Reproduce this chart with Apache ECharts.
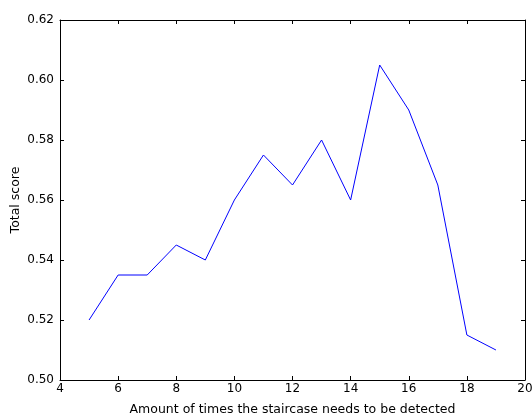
<!DOCTYPE html>
<html>
<head>
<meta charset="utf-8">
<script src="https://cdn.jsdelivr.net/npm/echarts@6/dist/echarts.min.js"></script>
<style>
  html, body { margin: 0; padding: 0; background: #fff; }
  #chart { width: 532px; height: 416px; }
</style>
</head>
<body>
<div id="chart"></div>
<script>
// Detection count vs. total score
const detections = [5, 6, 7, 8, 9, 10, 11, 12, 13, 14, 15, 16, 17, 18, 19];
const totalScore = [0.52, 0.535, 0.535, 0.545, 0.54, 0.56, 0.575, 0.565, 0.58, 0.56, 0.605, 0.59, 0.565, 0.515, 0.51];
const xTicks = [4, 6, 8, 10, 12, 14, 16, 18, 20];
const yTicks = [0.50, 0.52, 0.54, 0.56, 0.58, 0.60, 0.62];

const font = 'DejaVu Sans';
const tickFs = 12;
const nameFs = 12.5;
const chart = echarts.init(document.getElementById('chart'), null, { renderer: 'canvas' });

const tickStyle = { show: true, inside: true, length: 4, lineStyle: { color: '#000', width: 1 } };
const lineStyle = { show: true, lineStyle: { color: '#000', width: 1 } };

chart.setOption({
  animation: false,
  grid: { left: 60, top: 20, width: 465, height: 360, containLabel: false, outerBoundsMode: 'none' },
  xAxis: [
    {
      type: 'value', min: xTicks[0], max: xTicks[xTicks.length - 1], interval: 2,
      position: 'bottom',
      name: 'Amount of times the staircase needs to be detected',
      nameLocation: 'middle', nameGap: 23, nameMoveOverlap: false,
      nameTextStyle: { fontFamily: font, fontSize: nameFs, color: '#000' },
      axisLine: lineStyle, axisTick: tickStyle, splitLine: { show: false },
      axisLabel: { fontFamily: font, fontSize: tickFs, color: '#000', margin: 3 }
    },
    {
      type: 'value', min: xTicks[0], max: xTicks[xTicks.length - 1], interval: 2,
      position: 'top',
      axisLine: lineStyle, axisTick: tickStyle, splitLine: { show: false },
      axisLabel: { show: false }
    }
  ],
  yAxis: [
    {
      type: 'value', min: yTicks[0], max: yTicks[yTicks.length - 1], interval: 0.02,
      position: 'left',
      name: 'Total score', nameLocation: 'middle', nameGap: 38, nameRotate: 90,
      nameMoveOverlap: false,
      nameTextStyle: { fontFamily: font, fontSize: nameFs, color: '#000' },
      axisLine: lineStyle, axisTick: tickStyle, splitLine: { show: false },
      axisLabel: { fontFamily: font, fontSize: tickFs, color: '#000', margin: 6,
        formatter: v => v.toFixed(2) }
    },
    {
      type: 'value', min: yTicks[0], max: yTicks[yTicks.length - 1], interval: 0.02,
      position: 'right',
      axisLine: lineStyle, axisTick: tickStyle, splitLine: { show: false },
      axisLabel: { show: false }
    }
  ],
  series: [{
    type: 'line',
    data: detections.map((d, i) => [d, totalScore[i]]),
    xAxisIndex: 0, yAxisIndex: 0,
    showSymbol: false, symbol: 'none',
    lineStyle: { color: '#0000ff', width: 1 }
  }]
});
</script>
</body>
</html>
